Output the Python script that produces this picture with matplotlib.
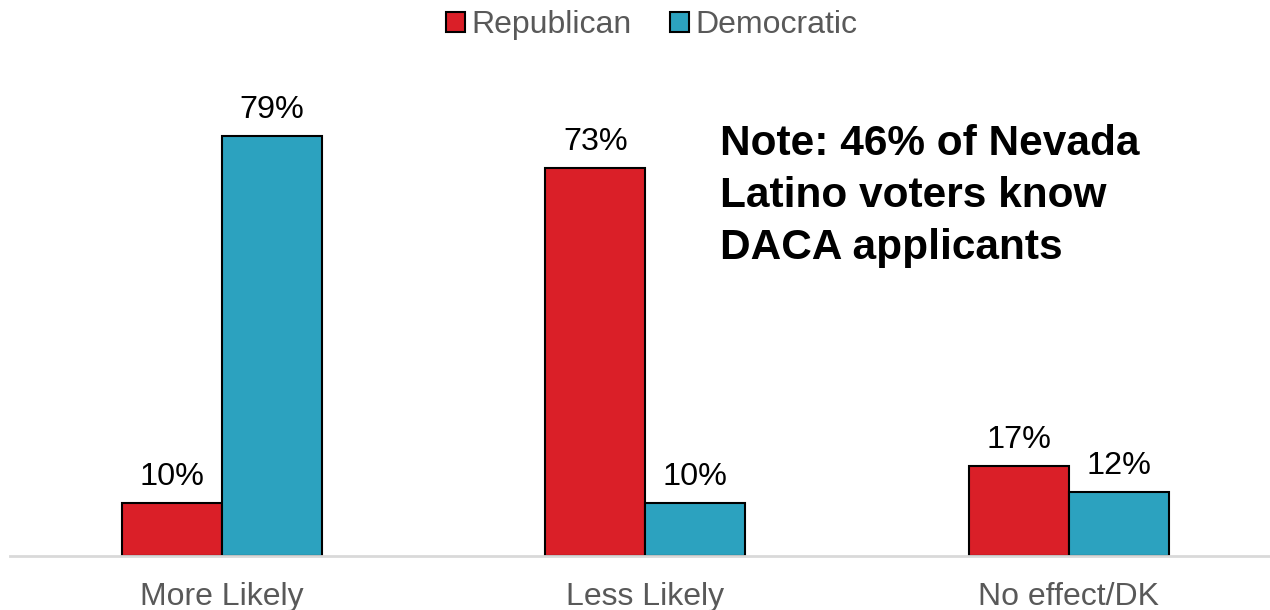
import matplotlib
matplotlib.use("Agg")
import matplotlib.pyplot as plt
import numpy as np

categories = ["More Likely", "Less Likely", "No effect/DK"]
republican = [10, 73, 17]
democratic = [79, 10, 12]
series_names = ["Republican", "Democratic"]
colors = ["#DA1F28", "#2CA2BF"]
note = "Note: 46% of Nevada\nLatino voters know\nDACA applicants"

plt.rcParams['font.family'] = ['Liberation Sans', 'DejaVu Sans']

fig = plt.figure(figsize=(12.7, 6.1), dpi=100)
ax = fig.add_axes([10/1270, 54/610, 1260/1270, 496/610])

x = np.arange(len(categories))
w = 100/423.5
bars_r = ax.bar(x - w/2, republican, w, color=colors[0], edgecolor="black", linewidth=1.5, label=series_names[0])
bars_d = ax.bar(x + w/2, democratic, w, color=colors[1], edgecolor="black", linewidth=1.5, label=series_names[1])

for bars, vals in ((bars_r, republican), (bars_d, democratic)):
    for b, v in zip(bars, vals):
        ax.annotate(f"{v}%", (b.get_x() + b.get_width()/2, v), xytext=(0, 8),
                    textcoords="offset points", ha="center", va="bottom",
                    fontsize=23.3, color="black")

ax.set_xlim(-0.5, -0.5 + 1260/423.5)
ax.set_ylim(0, 496/5.316)
ax.set_xticks(x)
ax.set_xticklabels(categories, fontsize=23, color="#595959")
ax.tick_params(axis="x", length=0, pad=19)
ax.set_yticks([])
for s in ["top", "right", "left"]:
    ax.spines[s].set_visible(False)
ax.spines["bottom"].set_color("#D9D9D9")
ax.spines["bottom"].set_linewidth(2)

ax.text(720/1270, 1 - 124/610, note, transform=fig.transFigure, fontsize=30.5,
        fontweight="bold", ha="left", va="top", linespacing=1.38)

leg = fig.legend(handles=[bars_r, bars_d], labels=series_names, loc="center",
                 bbox_to_anchor=(652/1270, 1 - 25/610), ncol=2, frameon=False,
                 fontsize=23, handlelength=0.6, handleheight=0.6,
                 handletextpad=0.2, columnspacing=1.2)
for t in leg.get_texts():
    t.set_color("#595959")

fig.savefig("out.png", dpi=100)
